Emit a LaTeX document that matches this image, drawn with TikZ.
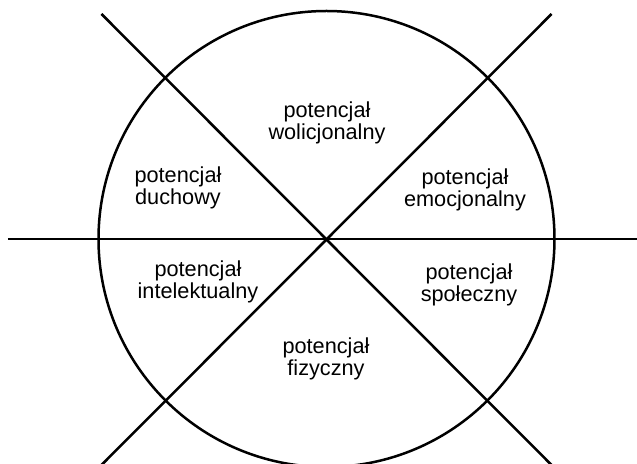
\documentclass[tikz,border=0pt]{standalone}
\usepackage{fontspec}
\setmainfont{Liberation Sans}
\tikzset{
    potential/.style={align=center, inner sep=0pt, font=\fontsize{10.85}{11}\selectfont},
    axis/.style={-, line width=1.25pt, draw=black},
    wheel/.style={line width=1.25pt, draw=black},
}

\begin{document}
\begin{tikzpicture}[x=0.5pt, y=0.5pt]
    \useasboundingbox (-326.5,-225) rectangle (310.5,239);
    \coordinate (c) at (0,0);
    \coordinate (w) at (-318.5,0);
    \coordinate (e) at (312,0);
    \coordinate (nw) at (-225,225);
    \coordinate (se) at (225,-226);
    \coordinate (ne) at (225,225);
    \coordinate (sw) at (-225,-226);
    \draw[wheel] (c) circle[radius=228];
    \draw[axis] (w) --(e);
    \draw[axis] (nw) --(se);
    \draw[axis] (ne) --(sw);
    \node[potential] (wol) at (0.5,116) {potencjał\\wolicjonalny};
    \node[potential] (duch) at (-148.5,51) {potencjał\\duchowy};
    \node[potential] (emo) at (138.5,49) {potencjał\\emocjonalny};
    \node[potential] (int) at (-128.5,-43) {potencjał\\intelektualny};
    \node[potential] (spo) at (142.5,-46) {potencjał\\społeczny};
    \node[potential] (fiz) at (-0.5,-120) {potencjał\\fizyczny};
\end{tikzpicture}
\end{document}
